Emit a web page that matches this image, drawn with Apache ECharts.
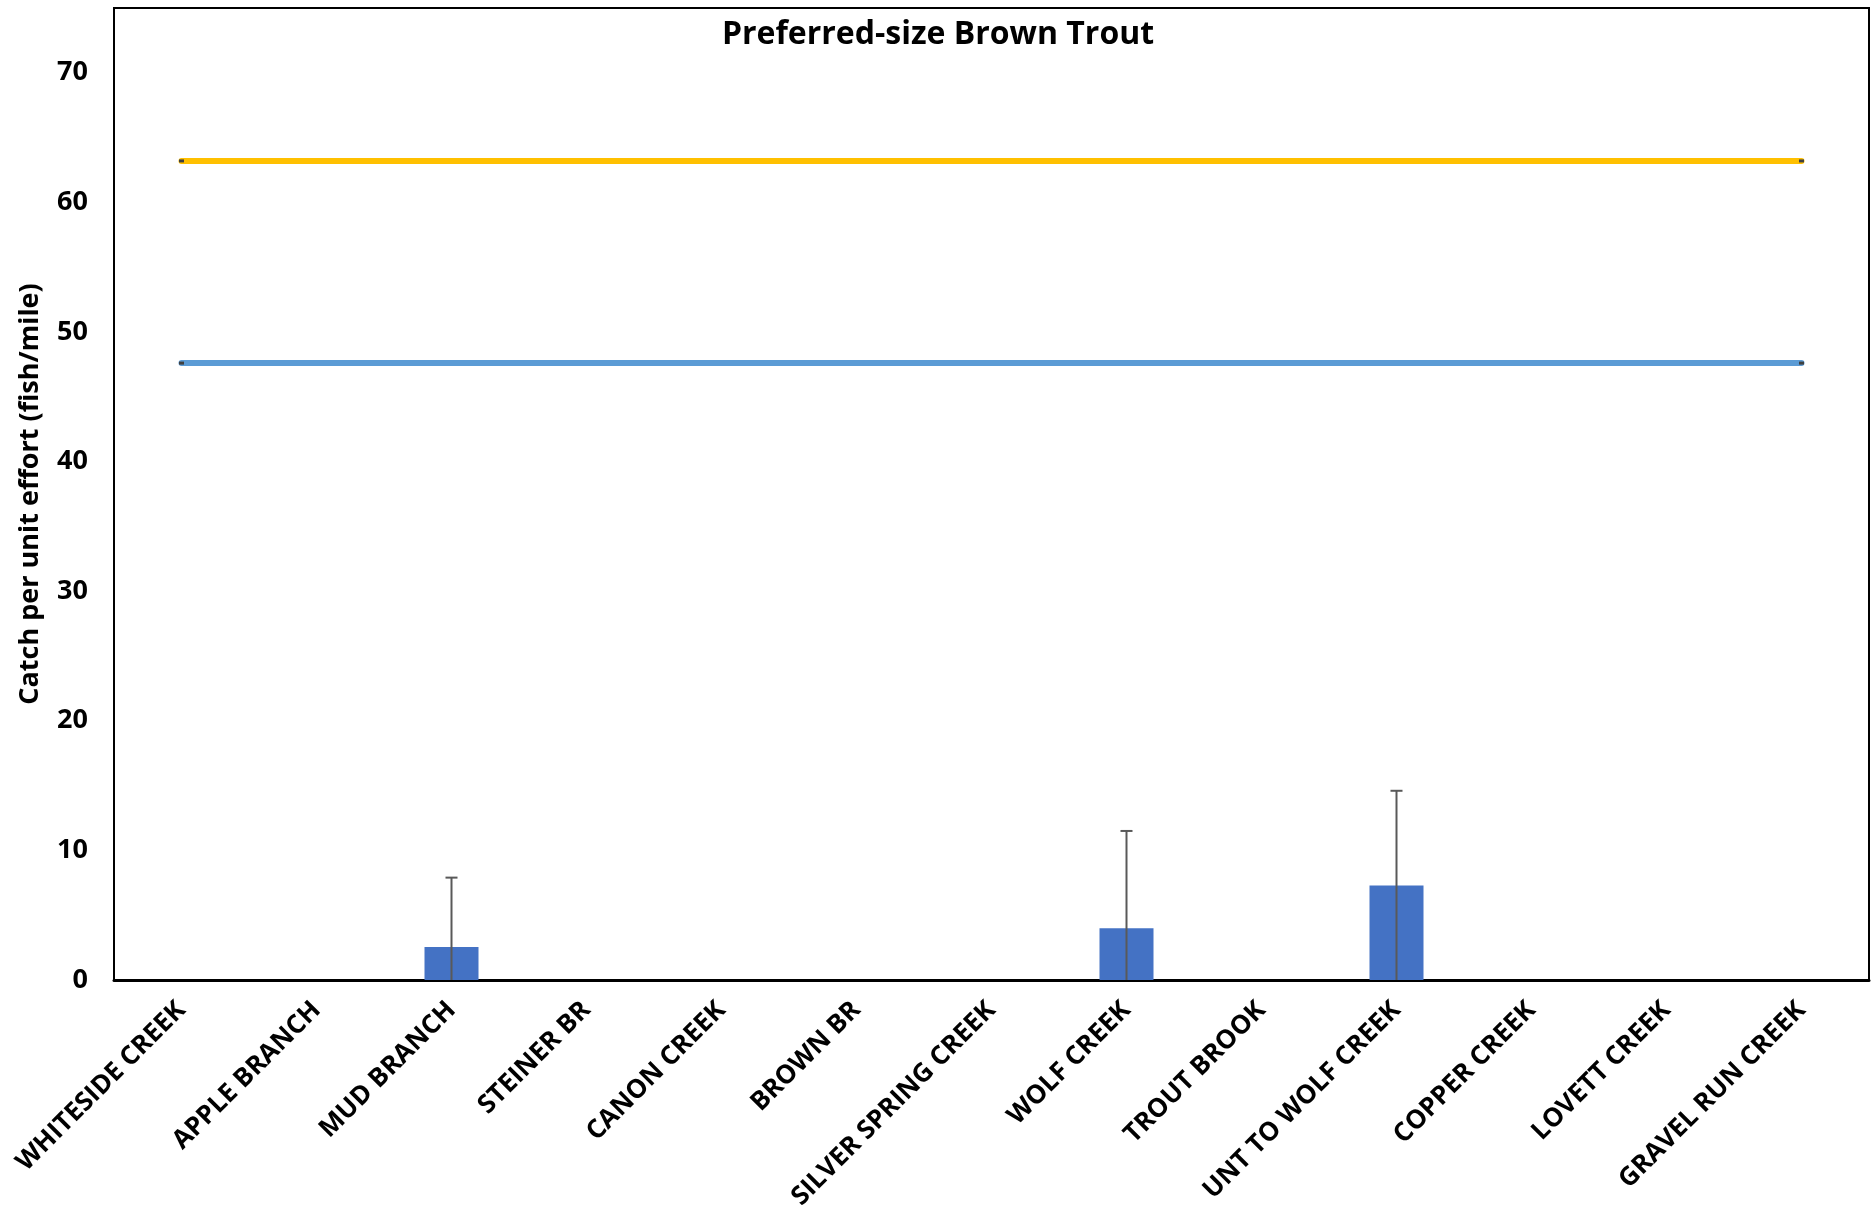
<!DOCTYPE html>
<html>
<head>
<meta charset="utf-8">
<script src="https://cdn.jsdelivr.net/npm/echarts@6/dist/echarts.min.js"></script>
<style>
  html, body { margin: 0; padding: 0; background: #fff; }
  #chart { width: 1875px; height: 1222px; }
</style>
</head>
<body>
<div id="chart"></div>
<script>
// Streams sampled
const categories = [
  'WHITESIDE CREEK', 'APPLE BRANCH', 'MUD BRANCH', 'STEINER BR', 'CANON CREEK',
  'BROWN BR', 'SILVER SPRING CREEK', 'WOLF CREEK', 'TROUT BROOK', 'UNT TO WOLF CREEK',
  'COPPER CREEK', 'LOVETT CREEK', 'GRAVEL RUN CREEK'
];
// Mean CPUE of preferred-size brown trout (fish/mile)
const cpue = [0, 0, 2.55, 0, 0, 0, 0, 4.0, 0, 7.3, 0, 0, 0];
// Error bar half-widths
const cpueError = [0, 0, 5.35, 0, 0, 0, 0, 7.5, 0, 7.3, 0, 0, 0];
// Reference levels (fish/mile)
const upperRef = 63.2;
const lowerRef = 47.6;
// Y-axis ticks
const yTicks = [0, 10, 20, 30, 40, 50, 60, 70];

const FONT = '"Open Sans", "Noto Sans", sans-serif';

const chart = echarts.init(document.getElementById('chart'), null, { renderer: 'canvas' });

const errorData = categories.map((c, i) => [i, cpue[i], cpueError[i]]).filter(d => d[2] > 0);

chart.setOption({
  animation: false,
  backgroundColor: '#ffffff',
  title: {
    text: 'Preferred-size Brown Trout',
    left: 933,
    top: 14,
    textAlign: 'center',
    textStyle: { fontFamily: FONT, fontWeight: 'bold', fontSize: 32, color: '#000' }
  },
  grid: {
    left: 114, right: 6, top: 8, bottom: 242,
    show: true, borderColor: '#000', borderWidth: 2, backgroundColor: 'transparent'
  },
  xAxis: {
    type: 'category',
    data: categories,
    boundaryGap: true,
    axisTick: { show: false },
    axisLine: { show: true, lineStyle: { color: '#000', width: 3 } },
    axisLabel: {
      rotate: 45,
      interval: 0,
      margin: 26,
      fontFamily: FONT, fontWeight: 'bold', fontSize: 26, color: '#000'
    }
  },
  yAxis: {
    type: 'value',
    min: 0, max: 75, interval: 10,
    name: 'Catch per unit effort (fish/mile)',
    nameLocation: 'middle',
    nameGap: 70,
    nameTextStyle: { fontFamily: FONT, fontWeight: 'bold', fontSize: 27, color: '#000' },
    axisLine: { show: false },
    axisTick: { show: false },
    splitLine: { show: false },
    axisLabel: {
      margin: 26,
      fontFamily: FONT, fontWeight: 'bold', fontSize: 27, color: '#000',
      formatter: v => (yTicks.indexOf(v) >= 0 ? String(v) : '')
    }
  },
  series: [
    {
      type: 'bar',
      data: cpue,
      barWidth: '40%',
      itemStyle: { color: '#4472C4' },
      z: 2
    },
    {
      type: 'custom',
      data: errorData,
      z: 3,
      clip: true,
      renderItem: function (params, api) {
        const i = api.value(0);
        const v = api.value(1);
        const e = api.value(2);
        const top = api.coord([i, v + e]);
        const bottom = api.coord([i, Math.max(0, v - e)]);
        const half = 6;
        return {
          type: 'group',
          children: [
            { type: 'line', shape: { x1: top[0], y1: top[1], x2: bottom[0], y2: bottom[1] },
              style: { stroke: '#595959', lineWidth: 2 } },
            { type: 'line', shape: { x1: top[0] - half, y1: top[1], x2: top[0] + half, y2: top[1] },
              style: { stroke: '#595959', lineWidth: 2 } }
          ]
        };
      }
    },
    {
      type: 'line',
      data: [[categories[0], upperRef], [categories[categories.length - 1], upperRef]],
      symbol: 'rect', symbolSize: [5, 3], showSymbol: true,
      itemStyle: { color: '#404040' },
      lineStyle: { color: '#FFC000', width: 6, cap: 'round' },
      z: 4
    },
    {
      type: 'line',
      data: [[categories[0], lowerRef], [categories[categories.length - 1], lowerRef]],
      symbol: 'rect', symbolSize: [5, 3], showSymbol: true,
      itemStyle: { color: '#404040' },
      lineStyle: { color: '#5B9BD5', width: 6, cap: 'round' },
      z: 4
    }
  ]
});
</script>
</body>
</html>
